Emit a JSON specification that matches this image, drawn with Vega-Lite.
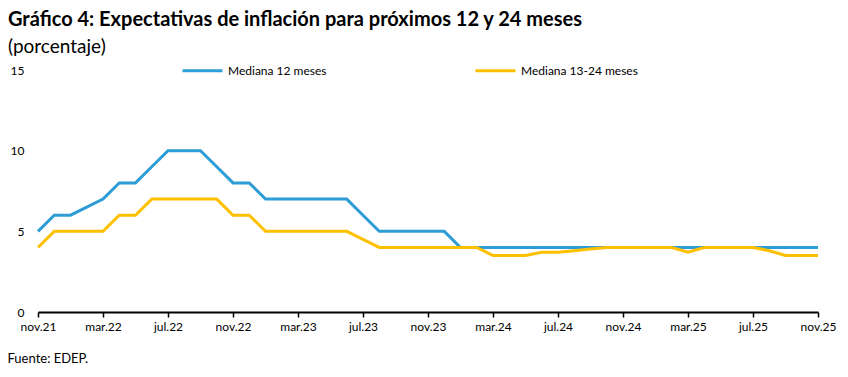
{
  "$schema": "https://vega.github.io/schema/vega-lite/v6.json",
  "width": 780,
  "height": 242,
  "autosize": "none",
  "padding": {"left": 38, "top": 70, "right": 30, "bottom": 65},
  "background": "white",
  "config": {"font": "Lato", "view": {"stroke": null}},
  "title": {
    "text": "Gráfico 4: Expectativas de inflación para próximos 12 y 24 meses",
    "subtitle": "(porcentaje)",
    "anchor": "start",
    "frame": "group",
    "dx": -30,
    "offset": -8,
    "font": "Lato",
    "fontSize": 20,
    "fontWeight": "bold",
    "color": "black",
    "subtitleFont": "Lato",
    "subtitleFontSize": 19,
    "subtitleColor": "black",
    "subtitlePadding": 8
  },
  "data": {
    "values": [
      {"mes": "nov.21", "serie": "Mediana 12 meses", "valor": 5},
      {"mes": "dic.21", "serie": "Mediana 12 meses", "valor": 6},
      {"mes": "ene.22", "serie": "Mediana 12 meses", "valor": 6},
      {"mes": "feb.22", "serie": "Mediana 12 meses", "valor": 6.5},
      {"mes": "mar.22", "serie": "Mediana 12 meses", "valor": 7},
      {"mes": "abr.22", "serie": "Mediana 12 meses", "valor": 8},
      {"mes": "may.22", "serie": "Mediana 12 meses", "valor": 8},
      {"mes": "jun.22", "serie": "Mediana 12 meses", "valor": 9},
      {"mes": "jul.22", "serie": "Mediana 12 meses", "valor": 10},
      {"mes": "ago.22", "serie": "Mediana 12 meses", "valor": 10},
      {"mes": "sep.22", "serie": "Mediana 12 meses", "valor": 10},
      {"mes": "oct.22", "serie": "Mediana 12 meses", "valor": 9},
      {"mes": "nov.22", "serie": "Mediana 12 meses", "valor": 8},
      {"mes": "dic.22", "serie": "Mediana 12 meses", "valor": 8},
      {"mes": "ene.23", "serie": "Mediana 12 meses", "valor": 7},
      {"mes": "feb.23", "serie": "Mediana 12 meses", "valor": 7},
      {"mes": "mar.23", "serie": "Mediana 12 meses", "valor": 7},
      {"mes": "abr.23", "serie": "Mediana 12 meses", "valor": 7},
      {"mes": "may.23", "serie": "Mediana 12 meses", "valor": 7},
      {"mes": "jun.23", "serie": "Mediana 12 meses", "valor": 7},
      {"mes": "jul.23", "serie": "Mediana 12 meses", "valor": 6},
      {"mes": "ago.23", "serie": "Mediana 12 meses", "valor": 5},
      {"mes": "sep.23", "serie": "Mediana 12 meses", "valor": 5},
      {"mes": "oct.23", "serie": "Mediana 12 meses", "valor": 5},
      {"mes": "nov.23", "serie": "Mediana 12 meses", "valor": 5},
      {"mes": "dic.23", "serie": "Mediana 12 meses", "valor": 5},
      {"mes": "ene.24", "serie": "Mediana 12 meses", "valor": 4},
      {"mes": "feb.24", "serie": "Mediana 12 meses", "valor": 4},
      {"mes": "mar.24", "serie": "Mediana 12 meses", "valor": 4},
      {"mes": "abr.24", "serie": "Mediana 12 meses", "valor": 4},
      {"mes": "may.24", "serie": "Mediana 12 meses", "valor": 4},
      {"mes": "jun.24", "serie": "Mediana 12 meses", "valor": 4},
      {"mes": "jul.24", "serie": "Mediana 12 meses", "valor": 4},
      {"mes": "ago.24", "serie": "Mediana 12 meses", "valor": 4},
      {"mes": "sep.24", "serie": "Mediana 12 meses", "valor": 4},
      {"mes": "oct.24", "serie": "Mediana 12 meses", "valor": 4},
      {"mes": "nov.24", "serie": "Mediana 12 meses", "valor": 4},
      {"mes": "dic.24", "serie": "Mediana 12 meses", "valor": 4},
      {"mes": "ene.25", "serie": "Mediana 12 meses", "valor": 4},
      {"mes": "feb.25", "serie": "Mediana 12 meses", "valor": 4},
      {"mes": "mar.25", "serie": "Mediana 12 meses", "valor": 4},
      {"mes": "abr.25", "serie": "Mediana 12 meses", "valor": 4},
      {"mes": "may.25", "serie": "Mediana 12 meses", "valor": 4},
      {"mes": "jun.25", "serie": "Mediana 12 meses", "valor": 4},
      {"mes": "jul.25", "serie": "Mediana 12 meses", "valor": 4},
      {"mes": "ago.25", "serie": "Mediana 12 meses", "valor": 4},
      {"mes": "sep.25", "serie": "Mediana 12 meses", "valor": 4},
      {"mes": "oct.25", "serie": "Mediana 12 meses", "valor": 4},
      {"mes": "nov.25", "serie": "Mediana 12 meses", "valor": 4},
      {"mes": "nov.21", "serie": "Mediana 13-24 meses", "valor": 4},
      {"mes": "dic.21", "serie": "Mediana 13-24 meses", "valor": 5},
      {"mes": "ene.22", "serie": "Mediana 13-24 meses", "valor": 5},
      {"mes": "feb.22", "serie": "Mediana 13-24 meses", "valor": 5},
      {"mes": "mar.22", "serie": "Mediana 13-24 meses", "valor": 5},
      {"mes": "abr.22", "serie": "Mediana 13-24 meses", "valor": 6},
      {"mes": "may.22", "serie": "Mediana 13-24 meses", "valor": 6},
      {"mes": "jun.22", "serie": "Mediana 13-24 meses", "valor": 7},
      {"mes": "jul.22", "serie": "Mediana 13-24 meses", "valor": 7},
      {"mes": "ago.22", "serie": "Mediana 13-24 meses", "valor": 7},
      {"mes": "sep.22", "serie": "Mediana 13-24 meses", "valor": 7},
      {"mes": "oct.22", "serie": "Mediana 13-24 meses", "valor": 7},
      {"mes": "nov.22", "serie": "Mediana 13-24 meses", "valor": 6},
      {"mes": "dic.22", "serie": "Mediana 13-24 meses", "valor": 6},
      {"mes": "ene.23", "serie": "Mediana 13-24 meses", "valor": 5},
      {"mes": "feb.23", "serie": "Mediana 13-24 meses", "valor": 5},
      {"mes": "mar.23", "serie": "Mediana 13-24 meses", "valor": 5},
      {"mes": "abr.23", "serie": "Mediana 13-24 meses", "valor": 5},
      {"mes": "may.23", "serie": "Mediana 13-24 meses", "valor": 5},
      {"mes": "jun.23", "serie": "Mediana 13-24 meses", "valor": 5},
      {"mes": "jul.23", "serie": "Mediana 13-24 meses", "valor": 4.5},
      {"mes": "ago.23", "serie": "Mediana 13-24 meses", "valor": 4},
      {"mes": "sep.23", "serie": "Mediana 13-24 meses", "valor": 4},
      {"mes": "oct.23", "serie": "Mediana 13-24 meses", "valor": 4},
      {"mes": "nov.23", "serie": "Mediana 13-24 meses", "valor": 4},
      {"mes": "dic.23", "serie": "Mediana 13-24 meses", "valor": 4},
      {"mes": "ene.24", "serie": "Mediana 13-24 meses", "valor": 4},
      {"mes": "feb.24", "serie": "Mediana 13-24 meses", "valor": 4},
      {"mes": "mar.24", "serie": "Mediana 13-24 meses", "valor": 3.5},
      {"mes": "abr.24", "serie": "Mediana 13-24 meses", "valor": 3.5},
      {"mes": "may.24", "serie": "Mediana 13-24 meses", "valor": 3.5},
      {"mes": "jun.24", "serie": "Mediana 13-24 meses", "valor": 3.7},
      {"mes": "jul.24", "serie": "Mediana 13-24 meses", "valor": 3.7},
      {"mes": "ago.24", "serie": "Mediana 13-24 meses", "valor": 3.8},
      {"mes": "sep.24", "serie": "Mediana 13-24 meses", "valor": 3.9},
      {"mes": "oct.24", "serie": "Mediana 13-24 meses", "valor": 4},
      {"mes": "nov.24", "serie": "Mediana 13-24 meses", "valor": 4},
      {"mes": "dic.24", "serie": "Mediana 13-24 meses", "valor": 4},
      {"mes": "ene.25", "serie": "Mediana 13-24 meses", "valor": 4},
      {"mes": "feb.25", "serie": "Mediana 13-24 meses", "valor": 4},
      {"mes": "mar.25", "serie": "Mediana 13-24 meses", "valor": 3.7},
      {"mes": "abr.25", "serie": "Mediana 13-24 meses", "valor": 4},
      {"mes": "may.25", "serie": "Mediana 13-24 meses", "valor": 4},
      {"mes": "jun.25", "serie": "Mediana 13-24 meses", "valor": 4},
      {"mes": "jul.25", "serie": "Mediana 13-24 meses", "valor": 4},
      {"mes": "ago.25", "serie": "Mediana 13-24 meses", "valor": 3.8},
      {"mes": "sep.25", "serie": "Mediana 13-24 meses", "valor": 3.5},
      {"mes": "oct.25", "serie": "Mediana 13-24 meses", "valor": 3.5},
      {"mes": "nov.25", "serie": "Mediana 13-24 meses", "valor": 3.5}
    ]
  },
  "mark": {"type": "line", "strokeWidth": 3, "strokeJoin": "miter"},
  "encoding": {
    "x": {
      "field": "mes",
      "type": "ordinal",
      "sort": null,
      "scale": {"type": "point", "padding": 0},
      "axis": {
        "values": ["nov.21", "mar.22", "jul.22", "nov.22", "mar.23", "jul.23", "nov.23", "mar.24", "jul.24", "nov.24", "mar.25", "jul.25", "nov.25"],
        "labelAngle": 0,
        "labelFont": "Lato",
        "labelFontSize": 12,
        "labelColor": "black",
        "labelPadding": 4,
        "domainColor": "black",
        "domainWidth": 2,
        "tickColor": "black",
        "tickWidth": 1.5,
        "tickSize": 5,
        "grid": false,
        "title": "Fuente: EDEP.",
        "titleFont": "Lato",
        "titleFontSize": 13,
        "titleFontWeight": "normal",
        "titleColor": "black",
        "titleAnchor": "start",
        "titleAlign": "left",
        "titleBaseline": "alphabetic",
        "titleX": -31,
        "titleY": 50
      }
    },
    "y": {
      "field": "valor",
      "type": "quantitative",
      "scale": {"domain": [0, 15], "nice": false},
      "axis": {
        "values": [0, 5, 10, 15],
        "title": null,
        "grid": false,
        "domain": false,
        "ticks": false,
        "labelFont": "Lato",
        "labelFontSize": 12,
        "labelColor": "black",
        "labelPadding": 14
      }
    },
    "color": {
      "field": "serie",
      "type": "nominal",
      "sort": ["Mediana 12 meses", "Mediana 13-24 meses"],
      "scale": {"domain": ["Mediana 12 meses", "Mediana 13-24 meses"], "range": ["#2E9CD6", "#FFC000"]},
      "legend": {
        "title": null,
        "orient": "none",
        "legendX": 143,
        "legendY": -21,
        "direction": "horizontal",
        "columns": 2,
        "columnPadding": 142,
        "symbolType": "stroke",
        "symbolSize": 1600,
        "symbolStrokeWidth": 3,
        "labelOffset": 4,
        "labelFont": "Lato",
        "labelFontSize": 12,
        "labelColor": "black"
      }
    }
  }
}
